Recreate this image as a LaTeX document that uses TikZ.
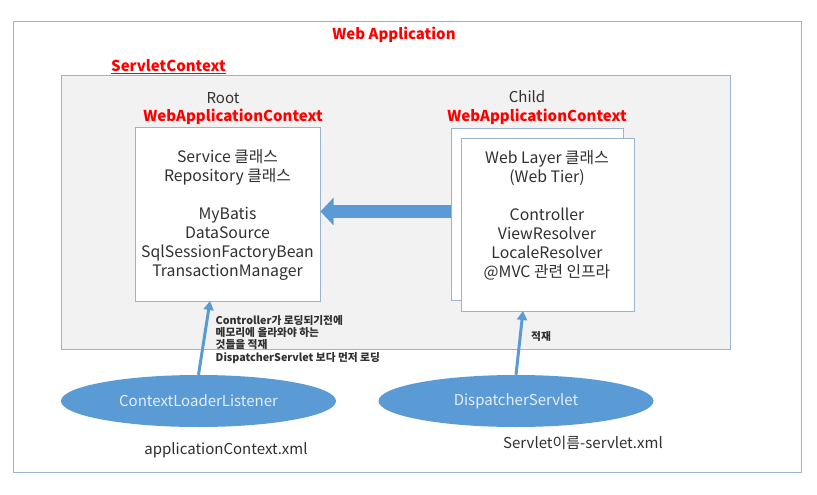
\documentclass[tikz,border=0pt]{standalone}
\usepackage{fontspec}
\setmainfont{Noto Sans CJK KR}
\usetikzlibrary{shapes.geometric,arrows.meta}
\definecolor{boxline}{HTML}{9AB3D0}
\definecolor{ctxfill}{HTML}{F2F2F2}
\definecolor{accent}{HTML}{5B9BD5}
\definecolor{txt}{HTML}{303030}
\definecolor{redtxt}{HTML}{FF0000}
\definecolor{elltxt}{HTML}{E2EEF9}
\tikzset{
  frame/.style={draw=boxline, line width=1pt, inner sep=0pt, outer sep=0pt, anchor=north west},
  redlabel/.style={text=redtxt, font=\fontsize{15}{18}\selectfont\bfseries, inner sep=0pt},
  plainlabel/.style={text=txt, font=\fontsize{15}{18}\selectfont, inner sep=0pt},
  content/.style={text=txt, font=\fontsize{15.8}{19}\selectfont, align=center, inner sep=0pt},
  note/.style={text=txt, font=\fontsize{10.7}{12.3}\selectfont\bfseries, align=left, inner sep=0pt, anchor=north west},
  oval/.style={ellipse, fill=accent, draw=none, minimum width=275pt, minimum height=52pt, inner sep=0pt,
               text=elltxt, font=\fontsize{15}{18}\selectfont},
  thin arrow/.style={draw=accent, line width=3pt, -{Triangle[length=9pt,width=10pt]}},
  fat arrow/.style={draw=accent, line width=13pt, -{Triangle[length=13pt,width=27pt]}}
}
\begin{document}
\begin{tikzpicture}[x=1pt,y=-1pt]
\useasboundingbox (0,0) rectangle (817,495);
\fill[white] (0,0) rectangle (817,495);

% outer Web Application frame
\node[frame, fill=white, minimum width=788pt, minimum height=450pt] (webapp) at (13,22) {};
\node[redlabel] (webapplbl) at (394,35) {Web Application};

% ServletContext
\node[frame, fill=ctxfill, minimum width=669pt, minimum height=273pt] (sctx) at (61,76) {};
\node[redlabel, anchor=base west] (sctxlbl) at (111,72) {\underline{ServletContext}};

% Root WebApplicationContext
\node[plainlabel] (rootlbl) at (223,98) {Root};
\node[redlabel] (rootwac) at (233,117) {WebApplicationContext};
\node[frame, fill=white, minimum width=185pt, minimum height=174pt] (root) at (135,127) {};
\node[content] (roottxt) at (227.5,215) {Service 클래스\\Repository 클래스\\[19pt]MyBatis\\DataSource\\SqlSessionFactoryBean\\TransactionManager};

% Child WebApplicationContext
\node[plainlabel] (childlbl) at (527,97) {Child};
\node[redlabel] (childwac) at (537,117) {WebApplicationContext};
\node[frame, fill=white, minimum width=172pt, minimum height=172pt] (childb) at (451,128) {};
\node[frame, fill=white, minimum width=173pt, minimum height=173pt] (childf) at (461,138) {};
\node[content] (childtxt) at (547,215) {Web Layer 클래스\\(Web Tier)\\[19pt]Controller\\ViewResolver\\LocaleResolver\\@MVC 관련 인프라};

% fat arrow child -> root
\draw[fat arrow] ([yshift=2.5pt]childb.west) -- ([yshift=2.5pt,xshift=0.5pt]root.east);

% ellipses
\node[oval] (cll) at (198.5,401) {ContextLoaderListener};
\node[oval] (ds) at (516,401) {DispatcherServlet};

% thin arrows
\draw[thin arrow] (cll.north) -- ([xshift=-17.5pt]root.south);
\draw[thin arrow] (ds.north) -- ([xshift=-24.5pt]childf.south);

% notes
\node[note] (note1) at (215.5,315) {Controller가 로딩되기전에\\메모리에 올라와야 하는\\것들을 적재\\DispatcherServlet 보다 먼저 로딩};
\node[note] (note2) at (531,331) {적재};

% xml labels
\node[plainlabel] (appxml) at (226,450) {applicationContext.xml};
\node[plainlabel] (srvxml) at (583,443) {Servlet이름-servlet.xml};
\end{tikzpicture}
\end{document}
